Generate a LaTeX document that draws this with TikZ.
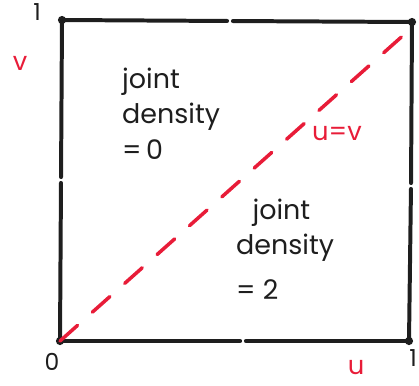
\documentclass[tikz,border=0pt]{standalone}
\usepackage{fontspec}
\setmainfont{Poppins}
\usepackage{tikz}
\usetikzlibrary{calc}
\definecolor{myink}{RGB}{30,30,30}
\definecolor{myred}{RGB}{232,28,56}
\tikzset{
  edge/.style={line width=3.4pt, color=myink, line cap=round},
  diag/.style={line width=3pt, color=myred, line cap=round,
    dash pattern=on 20pt off 17pt},
  corner/.style={circle, fill=myink, inner sep=0pt, minimum size=7pt},
  note/.style={align=left, anchor=north west, inner sep=0pt,
    font=\fontsize{23}{30}\selectfont, color=myink},
  axislabel/.style={inner sep=0pt, font=\fontsize{20}{24}\selectfont, color=myink},
  redlabel/.style={inner sep=0pt, font=\fontsize{22}{24}\selectfont, color=myred}
}

\begin{document}
\begin{tikzpicture}[x=0.03cm, y=-0.03cm]
  \useasboundingbox (0,0) rectangle (419,385);

  % Corners of the unit square
  \node[corner] (sw) at (60,341) {};
  \node[corner] (nw) at (62,20) {};
  \node[corner] (ne) at (412,22) {};
  \node[corner] (se) at (409,341) {};

  % Midpoints where the sides break
  \coordinate (mw) at (61,180);
  \coordinate (mn) at (230,21);
  \coordinate (me) at (411,186);
  \coordinate (ms) at (243,341);

  % Sides of the square
  \draw[edge, shorten >=2.5pt] (sw.center) -- (mw);
  \draw[edge, shorten <=2.5pt] (mw) -- (nw.center);
  \draw[edge, shorten >=2.5pt] (nw.center) -- (mn);
  \draw[edge, shorten <=2.5pt] (mn) -- (ne.center);
  \draw[edge, shorten >=2.5pt] (ne.center) -- (me);
  \draw[edge, shorten <=2.5pt] (me) -- (se.center);
  \draw[edge, shorten >=2.5pt] (se.center) -- (ms);
  \draw[edge, shorten <=2.5pt] (ms) -- (sw.center);

  % Diagonal u = v
  \coordinate (diagend) at (407,32);
  \draw[diag] (sw.center) -- (diagend);

  % Axis values
  \node[axislabel] (one) at (37,12) {1};
  \node[axislabel] (zero) at (52,362) {0};
  \node[axislabel] (oneu) at (413,358) {1};

  % Axis names
  \node[redlabel] (vname) at (20,63) {v};
  \node[redlabel] (uname) at (356,368) {u};
  \node[redlabel] (diagname) at (337,134) {u=v};

  % Joint density regions
  \node[note] (upper) at (122,68) {joint\\density\\=\,0};
  \node[note] (lower) at (236,199) {\hspace{14pt}joint\\density\\[8pt]= 2};
\end{tikzpicture}
\end{document}
